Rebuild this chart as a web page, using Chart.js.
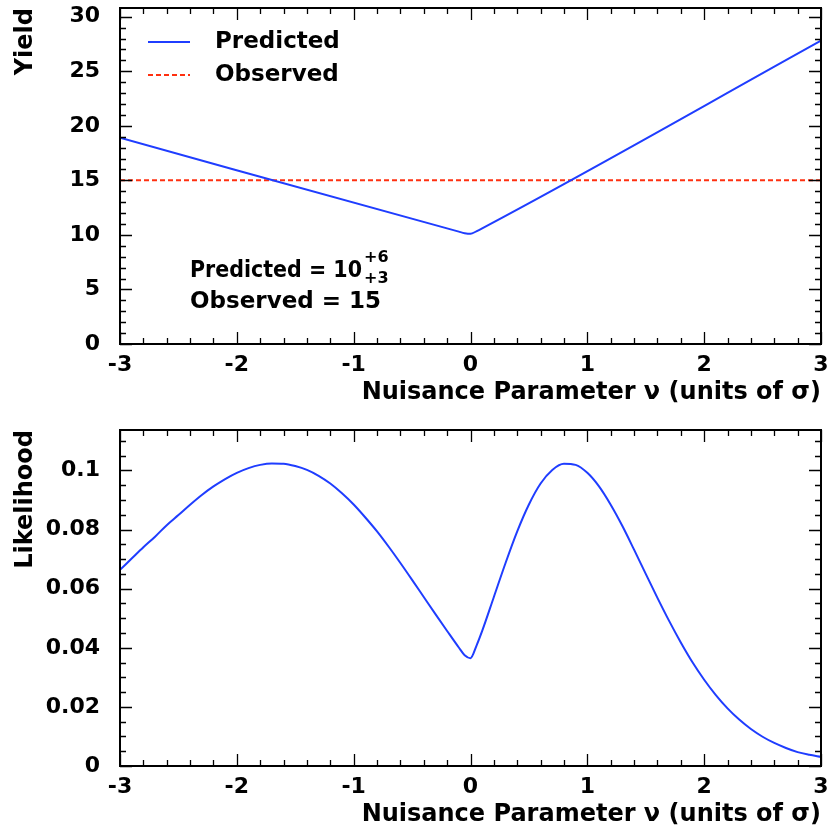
<!DOCTYPE html>
<html>
<head>
<meta charset="utf-8">
<script src="https://cdn.jsdelivr.net/npm/chart.js@4.4.1/dist/chart.umd.min.js"></script>
<style>
  body { margin: 0; background: #fff; }
  .panel { position: absolute; left: 0; }
</style>
</head>
<body>
<div class="panel" style="top:0"><canvas id="yieldChart" width="830" height="407"></canvas></div>
<div class="panel" style="top:407px"><canvas id="likeChart" width="830" height="422"></canvas></div>
<script>
// values
const nuPredicted = [-3, -0.1, -0.05, 0, 0.05, 0.1, 3];
const yieldPredicted = [18.9, 10.3, 10.16, 10.1, 10.33, 10.6, 27.8];
const nuObserved = [-3, 3];
const yieldObserved = [15, 15];

const nuLikelihood = [-3, -2.9, -2.8, -2.7, -2.6, -2.5, -2.4, -2.3, -2.2, -2.1, -2, -1.9, -1.8, -1.7, -1.6, -1.5, -1.4, -1.3,
  -1.2, -1.1, -1, -0.9, -0.8, -0.7, -0.6, -0.5, -0.4, -0.3, -0.2, -0.1, -0.05, 0,
  0.05, 0.1, 0.2, 0.3, 0.4, 0.5, 0.6, 0.7, 0.8, 0.9, 1, 1.1, 1.2, 1.3, 1.4, 1.5, 1.6, 1.7, 1.8, 1.9, 2,
  2.1, 2.2, 2.3, 2.4, 2.5, 2.6, 2.7, 2.8, 2.9, 3];
const likelihood = [0.0664, 0.0702, 0.0740, 0.0776, 0.0815, 0.0849, 0.0884, 0.0917, 0.0946, 0.0971, 0.0992, 0.1008, 0.1019, 0.1024, 0.1023, 0.1015, 0.1002, 0.0982,
  0.0956, 0.0923, 0.0885, 0.0841, 0.0794, 0.0742, 0.0687, 0.0630, 0.0572, 0.0514, 0.0457, 0.0401, 0.0375, 0.0365,
  0.0406, 0.0457, 0.0572, 0.0687, 0.0794, 0.0885, 0.0956, 0.1002, 0.1023, 0.1019, 0.0992, 0.0946, 0.0884, 0.0812, 0.0732, 0.0650,
  0.0569, 0.0491, 0.0418, 0.0351, 0.0292, 0.0240, 0.0195, 0.0157, 0.0125, 0.0099, 0.0078, 0.0061, 0.0047, 0.0038, 0.0031];

const xTickValues = [-3, -2, -1, 0, 1, 2, 3];
const yieldTickValues = [0, 5, 10, 15, 20, 25, 30];
const likeTickValues = [0, 0.02, 0.04, 0.06, 0.08, 0.1];

const BLUE = '#1f3dff';
const RED = '#ff3010';
const FONT = 'DejaVu Sans';
Chart.defaults.font.family = FONT;
Chart.defaults.color = '#000';

function pts(xs, ys) {
  return xs.map((x, i) => ({x: x, y: ys[i]}));
}

function noPad(s) {
  s.paddingTop = 0;
  s.paddingBottom = 0;
  s.paddingLeft = 0;
  s.paddingRight = 0;
}

// box around the plot with inward ticks on all four sides
const framePlugin = {
  id: 'frame',
  afterDatasetsDraw(chart, args, opts) {
    const {ctx, chartArea: a, scales: {x, y}} = chart;
    ctx.save();
    ctx.strokeStyle = '#000';
    ctx.lineWidth = 1.3;
    ctx.beginPath();
    const nx = Math.round((x.max - x.min) / opts.xMinor);
    for (let i = 0; i <= nx; i++) {
      const v = x.min + i * opts.xMinor;
      const px = Math.round(x.getPixelForValue(v)) + 0.5;
      const r = v / opts.xMajor;
      const len = Math.abs(r - Math.round(r)) < 1e-6 ? 12 : 6;
      ctx.moveTo(px, a.bottom); ctx.lineTo(px, a.bottom - len);
      ctx.moveTo(px, a.top); ctx.lineTo(px, a.top + len);
    }
    const ny = Math.floor((y.max - y.min) / opts.yMinor + 1e-6);
    for (let i = 0; i <= ny; i++) {
      const v = y.min + i * opts.yMinor;
      const py = Math.round(y.getPixelForValue(v)) + 0.5;
      const r = v / opts.yMajor;
      const len = Math.abs(r - Math.round(r)) < 1e-6 ? 12 : 6;
      ctx.moveTo(a.left, py); ctx.lineTo(a.left + len, py);
      ctx.moveTo(a.right, py); ctx.lineTo(a.right - len, py);
    }
    ctx.stroke();
    ctx.lineWidth = 2;
    ctx.strokeRect(a.left, a.top, a.right - a.left, a.bottom - a.top);
    ctx.restore();
  }
};

// legend and the text block in the upper panel
const notesPlugin = {
  id: 'notes',
  afterDraw(chart) {
    const ctx = chart.ctx;
    const ds = chart.data.datasets;
    ctx.save();
    ctx.fillStyle = '#000';
    ctx.textBaseline = 'middle';
    ctx.font = 'bold 23px ' + FONT;
    const rows = [42, 75];
    ds.forEach((d, i) => {
      ctx.strokeStyle = d.borderColor;
      ctx.lineWidth = 2;
      ctx.setLineDash(d.borderDash || []);
      ctx.beginPath();
      ctx.moveTo(148, rows[i]);
      ctx.lineTo(190, rows[i]);
      ctx.stroke();
      ctx.fillText(d.label, 215, rows[i]);
    });
    ctx.setLineDash([]);
    ctx.textBaseline = 'alphabetic';
    const x0 = 190;
    ctx.font = 'bold 23px ' + FONT;
    ctx.fillText('Predicted = 10', x0, 277, 172);
    ctx.font = 'bold 16px ' + FONT;
    ctx.fillText('+6', x0 + 174, 262);
    ctx.fillText('+3', x0 + 174, 283);
    ctx.font = 'bold 23px ' + FONT;
    ctx.fillText('Observed = 15', x0, 308, 198);
    ctx.restore();
  }
};

function xScale() {
  return {
    type: 'linear',
    min: -3,
    max: 3,
    grid: {display: false, drawTicks: false},
    border: {display: false},
    afterBuildTicks: s => { s.ticks = xTickValues.map(v => ({value: v})); },
    afterFit: s => { s.height = 63; noPad(s); },
    ticks: {
      padding: 8,
      font: {size: 22, weight: 'bold'},
      callback: v => String(v)
    },
    title: {
      display: true,
      text: 'Nuisance Parameter \u03BD (units of \u03C3)',
      align: 'end',
      font: {size: 24, weight: 'bold'},
      padding: {top: 0, bottom: 0}
    }
  };
}

function yScale(label, min, max, tickVals) {
  return {
    type: 'linear',
    min: min,
    max: max,
    grid: {display: false, drawTicks: false},
    border: {display: false},
    afterBuildTicks: s => { s.ticks = tickVals.map(v => ({value: v})); },
    afterFit: s => { s.width = 120; noPad(s); },
    ticks: {
      padding: 20,
      font: {size: 22, weight: 'bold'},
      callback: v => String(+v.toFixed(3))
    },
    title: {
      display: true,
      text: label,
      align: 'end',
      font: {size: 24, weight: 'bold'},
      padding: {top: 11, bottom: 0}
    }
  };
}

new Chart(document.getElementById('yieldChart'), {
  type: 'line',
  data: {
    datasets: [
      {
        label: 'Predicted',
        data: pts(nuPredicted, yieldPredicted),
        borderColor: BLUE,
        borderWidth: 2,
        pointRadius: 0,
        cubicInterpolationMode: 'monotone'
      },
      {
        label: 'Observed',
        data: pts(nuObserved, yieldObserved),
        borderColor: RED,
        borderWidth: 2,
        borderDash: [5, 3],
        pointRadius: 0
      }
    ]
  },
  options: {
    responsive: false,
    animation: false,
    layout: {padding: {left: 0, right: 9, top: 8, bottom: 0}},
    plugins: {
      legend: {display: false},
      tooltip: {enabled: false},
      frame: {xMinor: 0.2, xMajor: 1, yMinor: 1, yMajor: 5}
    },
    scales: {
      x: xScale(),
      y: yScale('Yield', 0, 30.8, yieldTickValues)
    }
  },
  plugins: [framePlugin, notesPlugin]
});

new Chart(document.getElementById('likeChart'), {
  type: 'line',
  data: {
    datasets: [
      {
        label: 'Likelihood',
        data: pts(nuLikelihood, likelihood),
        borderColor: BLUE,
        borderWidth: 2,
        pointRadius: 0,
        cubicInterpolationMode: 'monotone'
      }
    ]
  },
  options: {
    responsive: false,
    animation: false,
    layout: {padding: {left: 0, right: 9, top: 23, bottom: 0}},
    plugins: {
      legend: {display: false},
      tooltip: {enabled: false},
      frame: {xMinor: 0.2, xMajor: 1, yMinor: 0.005, yMajor: 0.02}
    },
    scales: {
      x: xScale(),
      y: yScale('Likelihood', 0, 0.1137, likeTickValues)
    }
  },
  plugins: [framePlugin]
});
</script>
</body>
</html>
